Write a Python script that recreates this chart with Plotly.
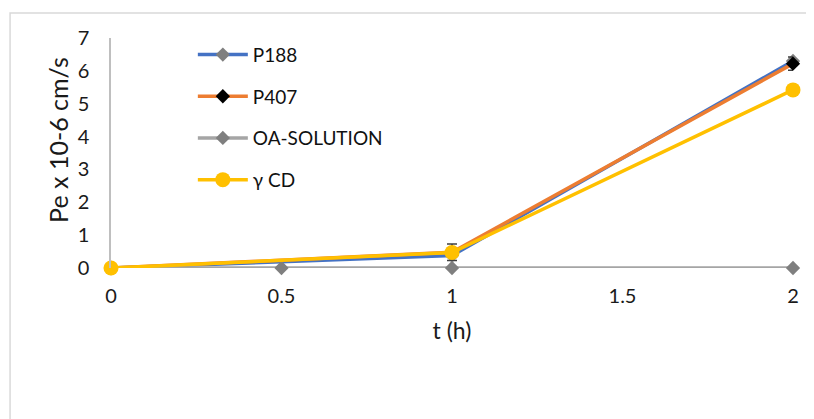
import plotly.graph_objects as go

t_main = [0, 1, 2]
p188 = [0, 0.38, 6.30]
p407 = [0, 0.48, 6.22]
p407_err = [0, 0.25, 0.2]
t_oa = [0, 0.5, 1, 2]
oa = [0, 0, 0, 0]
gcd = [0, 0.47, 5.42]

x_ticks = [0, 0.5, 1, 1.5, 2]
x_labels = ["0", "0.5", "1", "1.5", "2"]
y_ticks = [0, 1, 2, 3, 4, 5, 6, 7]

font_family = "Lato, Open Sans, sans-serif"

fig = go.Figure()
fig.add_trace(go.Scatter(
    x=t_main, y=p188, name="P188", mode="lines+markers", legendgroup="a",
    line=dict(color="#4472C4", width=3.5),
    marker=dict(symbol="diamond", size=11, color="#7f7f7f")))
fig.add_trace(go.Scatter(
    x=t_main, y=p407, name="P407", mode="lines+markers", legendgroup="b",
    line=dict(color="#ED7D31", width=3.5),
    marker=dict(symbol="diamond", size=11, color="#000000"),
    error_y=dict(type="data", array=p407_err, color="#404040", thickness=1.5, width=5)))
fig.add_trace(go.Scatter(
    x=t_oa, y=oa, name="OA-SOLUTION", mode="lines+markers", legendgroup="c",
    line=dict(color="#A5A5A5", width=3.5),
    marker=dict(symbol="diamond", size=11, color="#7f7f7f")))
fig.add_trace(go.Scatter(
    x=t_main, y=gcd, name="γ CD", mode="lines+markers", legendgroup="d",
    line=dict(color="#FFC000", width=3.5),
    marker=dict(symbol="circle", size=15, color="#FFC000")))

fig.add_shape(type="rect", xref="paper", yref="paper",
              x0=-0.148, x1=1.2, y0=-0.8, y1=1.109,
              line=dict(color="#d9d9d9", width=1.5), fillcolor="rgba(0,0,0,0)", layer="below")

fig.add_annotation(text="Pe x 10-6 cm/s", xref="paper", yref="paper",
                   x=-0.0777, y=0.557, xanchor="center", yanchor="middle",
                   textangle=-90, showarrow=False,
                   font=dict(size=25, color="#1a1a1a", family=font_family))

fig.update_layout(
    width=814, height=419,
    margin=dict(l=103, r=29, t=30, b=159),
    paper_bgcolor="white", plot_bgcolor="white",
    font=dict(family=font_family, color="#1a1a1a", size=19),
    showlegend=True,
    legend=dict(x=0.12, y=1.01, xanchor="left", yanchor="top",
                bgcolor="rgba(0,0,0,0)", font=dict(size=19, color="#111111"),
                tracegroupgap=14, itemwidth=50),
    xaxis=dict(range=[0, 2.0], tickvals=x_ticks, ticktext=x_labels,
               showgrid=False, zeroline=False, showline=False,
               ticks="", tickfont=dict(size=20), ticklabelstandoff=14,
               title=dict(text="t (h)", font=dict(size=23), standoff=16)),
    yaxis=dict(range=[0, 7], tickvals=y_ticks, showgrid=False, zeroline=False,
               showline=True, linecolor="#bfbfbf", linewidth=1.5,
               ticks="", tickfont=dict(size=20), ticklabelstandoff=16),
)
fig.update_traces(cliponaxis=False)

fig.write_html("out.html")
